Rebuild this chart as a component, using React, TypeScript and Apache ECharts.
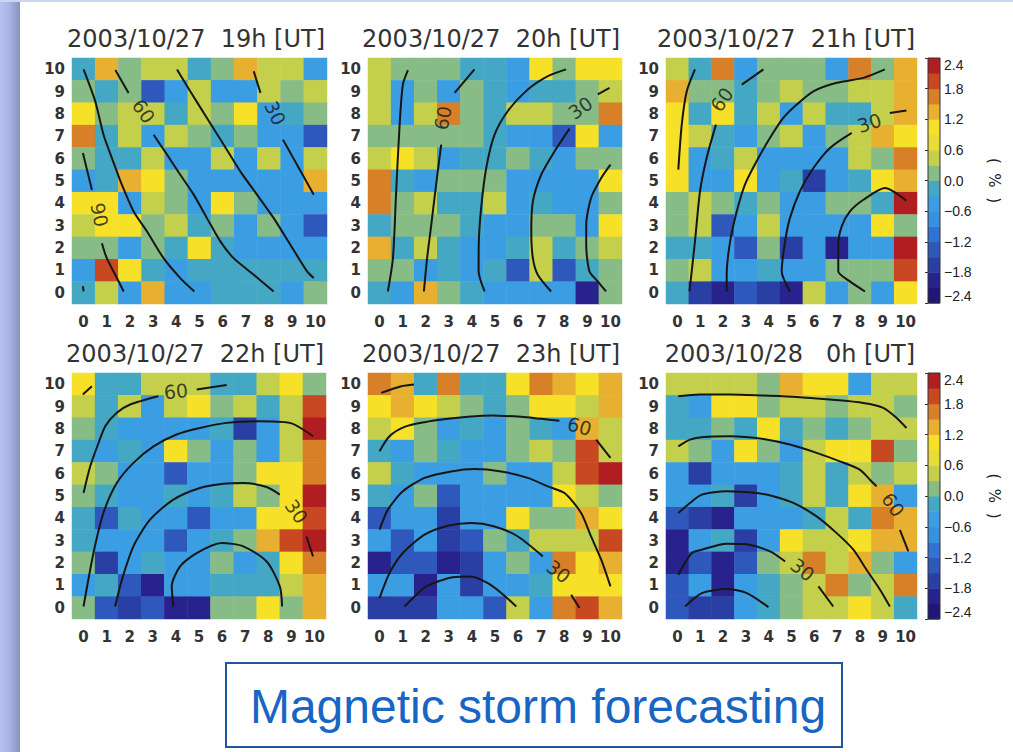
import React, { useEffect, useRef } from "react";
import * as echarts from "echarts";

// ---------- DATA ----------
const axisTicks = ["0", "1", "2", "3", "4", "5", "6", "7", "8", "9", "10"];
const panelTitles = [
  "2003/10/27  19h [UT]",
  "2003/10/27  20h [UT]",
  "2003/10/27  21h [UT]",
  "2003/10/27  22h [UT]",
  "2003/10/27  23h [UT]",
  "2003/10/28   0h [UT]",
];
const bandEdges = [-2.4, -2.1, -1.8, -1.5, -1.2, -0.9, -0.6, -0.3, 0, 0.3, 0.6, 0.9, 1.2, 1.5, 1.8, 2.1, 2.4];
const bandColors = [
  "#211676", "#28238c", "#2a3fa4", "#2f58bc", "#3372d2", "#3890e0", "#3c9ee2", "#44a8c4",
  "#88bc86", "#c4d04c", "#e8dc38", "#f7e128", "#e8b030", "#d88028", "#c84822", "#b01e22",
];
const colorbarTitle = "(  %  )";
const mainTitle = "Magnetic storm forecasting";

// rows listed from y = 10 (top) down to y = 0 (bottom)
const cells19h = [
  [-0.12, 1.32, 0.18, 0.44, 0.47, -0.2, 0.12, 1.38, 0.42, 0.46, -0.48],
  [0.16, -0.14, 0.2, -1.34, -0.5, 0.43, -0.52, -0.46, 0.4, 0.13, 0.48],
  [1.02, 0.14, 0.46, 0.42, -0.18, 0.44, 0.17, 1.05, -0.44, -0.16, 0.15],
  [1.62, -0.13, 0.45, -0.47, 0.43, 0.19, -0.17, 0.14, -0.42, -0.49, -1.31],
  [0.13, -0.15, -0.19, 0.47, -0.45, -0.41, 0.44, -0.48, 0.46, -0.44, 0.41],
  [-0.46, -0.12, 1.4, 1.03, 0.16, -0.43, -0.5, -0.47, -0.45, -0.41, 1.31],
  [0.98, 1.04, -0.49, 0.45, 0.18, -0.46, 1.01, 0.12, -0.42, -0.47, -0.44],
  [0.48, 1.06, 0.97, 0.14, 0.43, -0.16, 0.17, -0.45, 0.15, -0.5, -1.28],
  [0.15, 0.19, -0.43, 0.13, -0.14, 1.02, -0.18, -0.46, -0.41, -0.48, -0.45],
  [-0.47, 1.93, 1.05, -0.15, -0.44, -0.12, -0.16, -0.19, -0.13, -0.17, -0.14],
  [-0.16, 0.42, -0.48, 1.36, -0.45, -0.42, -0.14, -0.18, -0.15, -0.46, 0.16],
];
const cells20h = [
  [0.44, 0.16, 0.13, 0.18, -0.14, -0.17, -0.46, 1.03, 0.15, 0.99, 1.04],
  [0.46, -0.49, 0.14, -0.44, 0.17, -0.16, -0.43, -0.15, -0.12, 0.15, 0.42],
  [0.43, -0.47, 0.45, 1.63, 0.16, -0.13, 0.47, 0.44, 0.12, 0.18, 1.58],
  [0.14, 0.17, 0.15, 0.13, 0.19, -0.18, -0.45, -0.42, -1.33, 1.01, -0.48],
  [0.45, 1.02, 0.43, -0.46, -0.14, -0.17, 0.16, -0.12, -0.44, 0.14, 0.18],
  [1.61, -0.15, -0.47, 0.15, 0.12, 0.17, -0.43, -0.49, -0.45, -0.41, 1.05],
  [1.66, 0.13, 0.48, -0.16, -0.19, 0.44, -0.46, -0.13, -0.48, -0.44, 0.16],
  [-0.17, 0.15, 0.18, 0.14, -0.15, -0.45, -0.42, 0.13, 0.17, -0.47, 0.98],
  [1.33, -0.14, 0.46, -0.18, -0.43, -0.48, -0.16, 0.43, -0.12, 0.15, 0.47],
  [0.16, 0.14, -0.46, -0.15, -0.44, -0.17, -1.29, 0.45, -1.32, -0.13, 0.17],
  [-0.13, -0.47, 1.37, 0.16, -0.18, -0.45, -0.41, -0.49, -0.44, -2.02, 0.14],
];
const cells21h = [
  [0.46, -0.15, 1.64, -0.47, 0.15, 0.18, 0.13, -0.44, 1.6, 0.16, 1.34],
  [1.29, 0.14, 0.17, -0.16, 0.12, 0.44, 0.15, 0.18, 0.47, 0.43, 1.36],
  [1.03, -0.14, 1.0, -0.18, 0.45, -0.46, 0.48, -0.13, -0.17, 0.42, 1.32],
  [0.99, 0.44, -0.15, -0.48, 0.16, 0.46, -0.43, 0.14, 0.45, 1.38, 1.04],
  [1.05, -0.45, -0.17, 0.43, -0.47, -0.42, -0.49, -0.44, 0.46, 0.17, 1.62],
  [1.01, -0.46, -0.41, 1.02, -0.48, -0.14, -1.72, -0.45, -0.16, 1.03, 1.41],
  [0.13, 0.47, 0.16, -0.18, 0.15, -0.44, -0.47, 0.18, 0.14, -0.12, 2.22],
  [0.17, 0.43, -1.31, -0.46, 0.48, -0.43, -0.45, -0.49, -0.42, 0.97, 0.14],
  [-0.16, -0.13, -0.45, -1.33, 0.15, -1.68, -0.47, -2.05, -0.44, -0.41, 2.27],
  [0.15, 0.45, -0.48, -0.43, -0.15, -0.46, -0.42, 0.16, 0.13, 0.18, 1.92],
  [-0.14, -1.66, -2.03, -1.3, -1.71, -2.07, 0.44, -0.47, 0.17, -0.45, 1.02],
];
const cells22h = [
  [1.04, -0.14, -0.17, 0.45, 0.42, 0.47, -0.15, -0.12, 0.44, 1.01, 0.16],
  [0.43, -0.16, 0.46, -0.47, 0.44, 1.03, 0.14, 0.48, -0.13, 0.45, 1.9],
  [0.15, -0.18, -0.44, -0.46, -0.42, -0.48, -0.14, -1.69, -0.45, 0.43, 2.21],
  [-0.13, -0.45, -0.16, -0.43, 1.02, 0.17, -0.47, 0.13, -0.44, 0.46, 1.57],
  [0.47, 0.14, -0.49, -0.44, -1.32, -0.46, -0.41, 0.16, 1.0, 1.05, 1.52],
  [0.16, -0.15, -0.46, -0.42, -0.17, -0.48, -0.13, 0.44, 0.15, 0.99, 2.26],
  [-0.14, -1.28, -0.16, -0.45, -0.43, -1.34, -0.47, -0.44, 1.03, 1.06, 1.98],
  [-0.17, -0.46, -0.44, -0.48, -1.31, -0.42, -0.15, 0.14, 1.36, 1.88, 2.24],
  [0.15, -1.7, -0.43, -0.14, -0.46, -0.49, 0.17, -0.45, -0.12, 1.02, 1.6],
  [-0.44, -0.16, -1.33, -1.92, -0.47, -0.43, -0.18, -0.14, -0.13, 0.45, 1.39],
  [0.13, -1.3, -1.7, -1.35, -1.95, -1.98, 0.16, 0.18, 1.04, 0.15, 1.31],
];
const cells23h = [
  [1.58, 1.34, -0.16, 1.63, -0.13, -0.17, 1.02, 1.6, 1.37, 1.05, 1.33],
  [1.01, 1.3, 1.04, 0.44, 0.16, -0.15, 0.13, 1.03, 0.98, 0.47, 1.36],
  [0.46, 1.0, 0.17, -0.45, -0.14, -0.47, 0.15, -0.16, -0.43, 1.31, 0.45],
  [-0.15, -0.44, 0.14, -0.17, -0.46, -0.42, 0.16, 0.43, 0.18, 1.88, 0.44],
  [0.47, -0.13, -0.48, -0.44, -0.41, 0.15, -0.46, -0.43, 0.45, 1.92, 2.28],
  [-0.16, -0.45, 0.13, -1.29, -0.47, -0.43, -0.49, -0.44, 1.03, 0.46, 0.17],
  [-1.27, -0.46, -0.42, -1.71, -0.45, -0.48, 1.05, 0.14, 0.16, 1.35, 1.01],
  [-0.44, -1.33, -0.47, -1.68, -1.3, 0.15, -0.14, 0.43, 0.47, 0.44, 1.94],
  [-2.04, -1.31, -1.34, -2.01, -1.7, -0.46, 0.13, -0.43, 1.61, 1.02, 1.36],
  [-0.48, -0.44, -1.97, -0.45, -1.66, -0.42, -0.47, -0.15, 1.0, 1.04, 0.99],
  [-1.69, -1.72, -1.65, -0.46, -0.43, -1.32, 0.45, -0.44, 1.63, 1.9, 1.38],
];
const cells00h = [
  [0.44, 0.46, 0.42, 0.47, 0.15, 1.33, 1.02, 1.05, -0.45, 0.43, 0.45],
  [-0.15, -0.46, 1.01, 1.04, 0.16, 0.44, 0.47, 0.14, 0.45, 0.43, 0.17],
  [-0.13, -0.17, 0.15, -0.16, 1.03, -0.14, 0.13, -0.18, 0.16, 0.46, 0.44],
  [0.45, 0.17, -0.47, 1.02, 0.14, -0.44, 0.43, 1.0, 1.04, 1.91, 0.15],
  [-0.44, -1.68, -0.46, -0.43, -0.48, -0.15, 0.46, -0.13, 0.44, 0.16, 0.47],
  [-0.47, -0.42, -0.16, -1.7, -0.45, -0.14, 0.43, -0.17, 1.03, 1.34, -0.46],
  [-1.29, -1.72, -2.02, -0.44, -0.47, -0.43, -0.16, 0.45, -0.14, 1.59, 1.37],
  [-2.0, -0.45, -0.13, -1.69, -0.46, 1.04, 0.44, 0.47, 1.01, 1.32, 1.35],
  [-1.98, -1.33, -2.03, -1.31, 0.16, 0.45, 1.62, 0.43, 1.36, 0.15, -0.45],
  [-1.3, -0.44, -1.96, -0.47, -0.14, 0.14, 0.46, 1.6, 0.17, 0.44, 1.57],
  [-1.32, -1.71, -1.67, -0.45, -0.17, 0.15, 0.43, 0.46, 1.02, 0.45, -0.14],
];

// contour polylines in (x, y) cell coordinates
const contours19h = [
  [[0, 9.99], [0.5, 8.57], [0.86, 7.07], [1.22, 6.03], [1.65, 4.84], [2.16, 3.64], [2.73, 2.75], [3.45, 1.55], [4.17, 0.66], [4.78, 0.06]],
  [[1.37, 9.96], [1.94, 8.94]],
  [[3.02, 7.07], [3.6, 6.18], [4.17, 5.28], [4.75, 4.39], [5.32, 3.34], [5.9, 2.3], [6.47, 1.55], [7.34, 0.81], [8.2, 0.06]],
  [[4.03, 9.99], [4.6, 9.01], [5.32, 7.82], [6.04, 6.63], [6.76, 5.43], [7.48, 4.39], [8.2, 3.34], [8.92, 2.15], [9.64, 0.96], [9.93, 0.66]],
  [[7.34, 9.91], [7.63, 8.94]],
  [[8.6, 6.85], [9.93, 4.39]],
  [[-0.03, 6.25], [0.36, 4.6]],
  [[0.79, 2.22], [1.0, 1.55], [1.44, 0.66], [1.73, 0.06]],
  [[-0.03, 0.3], [0.0, 0.06]],
];
const contours20h = [
  [[1.23, 9.96], [1.01, 9.31], [0.87, 7.52], [0.72, 4.54], [0.58, 1.55], [0.36, 0.06]],
  [[3.25, 8.94], [4.11, 9.99]],
  [[2.67, 6.63], [2.45, 4.84], [2.24, 3.04], [2.06, 1.55], [1.92, 0.06]],
  [[8.08, 9.99], [7.29, 9.69], [6.42, 9.09], [5.55, 8.12], [4.98, 7.07], [4.62, 5.58], [4.4, 3.79], [4.3, 2.3], [4.29, 0.96], [4.55, 0.06]],
  [[9.45, 8.87], [9.96, 9.16]],
  [[8.23, 7.34], [7.58, 6.33], [7.0, 5.28], [6.64, 4.09], [6.57, 2.75], [6.64, 1.55], [6.85, 0.81], [7.43, 0.06]],
  [[10.0, 5.73], [9.6, 5.13], [9.16, 4.24], [8.95, 3.04], [8.95, 2.15], [9.09, 0.96], [9.45, 0.51], [9.81, 0.06]],
];
const contours21h = [
  [[0.77, 9.99], [0.41, 9.01], [0.19, 7.52], [0.04, 5.51]],
  [[2.82, 9.31], [3.77, 9.99]],
  [[1.69, 7.52], [1.28, 6.03], [0.99, 4.54], [0.77, 2.3], [0.53, 0.06]],
  [[9.09, 9.99], [8.15, 9.61], [6.98, 9.39], [5.96, 9.01], [5.23, 8.42], [4.64, 7.82], [4.06, 6.93], [3.47, 5.88], [2.96, 4.84], [2.6, 3.64], [2.31, 2.3], [2.16, 0.81], [2.16, 0.06]],
  [[9.31, 8.04], [10.04, 8.15]],
  [[7.64, 7.15], [6.69, 6.48], [5.96, 5.58], [5.37, 4.54], [4.93, 3.34], [4.72, 2.3], [4.57, 0.96], [4.93, 0.06]],
  [[10.04, 4.12], [9.09, 4.69], [8.15, 4.16], [7.56, 3.64], [7.2, 2.97], [7.05, 2.15], [7.05, 0.96], [7.56, 0.51], [8.22, 0.06]],
];
const contours22h = [
  [[-0.03, 9.54], [0.36, 9.91]],
  [[0, 5.13], [0.29, 6.33], [0.65, 7.37], [0.94, 8.12], [1.44, 8.72], [2.02, 9.09], [3.24, 9.46]],
  [[4.9, 9.76], [6.2, 9.96]],
  [[0, 0.06], [0.43, 2.45], [0.86, 4.24], [1.44, 5.58], [2.16, 6.48], [3.03, 7.22], [4.03, 7.75], [5.04, 8.04], [6.2, 8.27], [7.49, 8.34], [8.93, 8.27], [9.94, 7.67]],
  [[1.37, 0.06], [1.66, 1.25], [2.16, 2.75], [2.88, 3.94], [3.89, 4.84], [5.04, 5.36], [6.05, 5.55], [6.92, 5.58], [7.93, 5.4], [8.5, 5.06]],
  [[9.65, 3.19], [9.94, 2.3]],
  [[3.89, 0.06], [3.82, 0.96], [4.18, 1.85], [4.9, 2.45], [5.98, 2.9], [6.92, 2.75], [7.93, 2.07], [8.5, 0.96], [8.6, 0.06]],
];
const contours23h = [
  [[0.07, 9.61], [0.94, 9.91], [1.49, 9.99]],
  [[0, 7.0], [0.43, 7.67], [1.08, 8.09], [1.95, 8.3], [2.96, 8.45], [3.82, 8.54], [4.83, 8.6], [6.13, 8.54], [7.0, 8.45], [7.79, 8.37]],
  [[9.38, 7.52], [10.0, 6.7]],
  [[0, 3.49], [0.36, 4.39], [1.01, 5.21], [1.95, 5.81], [3.1, 6.1], [4.11, 6.21], [5.27, 6.1], [6.42, 5.81], [7.29, 5.43], [8.01, 5.13], [8.73, 4.24], [9.16, 3.19], [9.6, 2.15], [10.0, 0.96]],
  [[0, 0.43], [0.43, 1.55], [1.01, 2.45], [1.95, 3.27], [2.96, 3.67], [3.97, 3.79], [4.98, 3.64], [5.99, 3.19], [7.07, 2.3]],
  [[8.3, 0.58], [8.66, -0.01]],
  [[1.08, 0.06], [1.52, 0.51], [2.02, 0.96], [3.17, 1.37], [3.97, 1.4], [4.69, 1.1], [5.27, 0.66], [5.92, 0.06]],
];
const contours00h = [
  [[0.04, 9.46], [0.99, 9.54], [2.31, 9.54], [3.77, 9.49], [5.23, 9.43], [6.69, 9.31], [8.15, 9.16], [9.02, 8.94], [9.61, 8.49], [10.04, 8.04]],
  [[0.04, 7.22], [0.55, 7.52], [1.14, 7.64], [2.31, 7.67], [3.77, 7.55], [4.93, 7.3], [6.1, 6.93], [7.12, 6.55], [7.99, 6.18], [8.44, 5.73], [8.73, 5.43]],
  [[9.75, 3.49], [10.12, 2.52]],
  [[0.04, 4.24], [0.55, 4.69], [1.07, 5.06], [2.16, 5.21], [3.47, 5.13], [4.2, 4.99], [5.08, 4.69], [6.1, 4.09], [6.98, 3.34], [7.71, 2.6], [8.29, 1.7], [8.88, 0.81], [9.31, 0.06]],
  [[0.04, 1.48], [0.63, 2.45], [1.07, 2.6], [2.16, 2.87], [3.04, 2.84], [4.06, 2.52], [4.72, 2.07]],
  [[6.18, 0.96], [6.83, 0.06]],
  [[0.34, 0.06], [1.07, 0.66], [2.16, 0.84], [3.04, 0.66], [3.99, 0.03]],
];

// contour labels: [text, x, y, rotation]
const labels19h: [string, number, number, number][] = [["60", 2.59, 8.12, -55], ["30", 8.27, 8.04, -65], ["90", 0.69, 3.49, -78]];
const labels20h: [string, number, number, number][] = [["60", 2.74, 7.82, 80], ["30", 8.7, 8.27, 35]];
const labels21h: [string, number, number, number][] = [["60", 1.94, 8.64, 55], ["30", 8.41, 7.6, 18]];
const labels22h: [string, number, number, number][] = [["60", 4.0, 9.69, 5], ["30", 9.22, 4.31, -55]];
const labels23h: [string, number, number, number][] = [["60", 8.66, 8.12, -15], ["30", 7.75, 1.63, -38]];
const labels00h: [string, number, number, number][] = [["60", 9.46, 4.61, -55], ["30", 5.49, 1.7, -38]];

// ---------- LAYOUT ----------
const W = 1013;
const H = 752;
const panelBoxes = [
  { left: 72, top: 58, width: 255, height: 246 },
  { left: 368, top: 58, width: 254, height: 246 },
  { left: 666, top: 58, width: 251, height: 246 },
  { left: 72, top: 373, width: 254, height: 246 },
  { left: 368, top: 373, width: 254, height: 246 },
  { left: 666, top: 373, width: 251, height: 246 },
];
const cbBoxes = [
  { left: 928, top: 58, width: 12, height: 245 },
  { left: 928, top: 373, width: 12, height: 246 },
];
const titleTops = [27, 27, 27, 342, 342, 342];

const cellSets = [cells19h, cells20h, cells21h, cells22h, cells23h, cells00h];
const contourSets = [contours19h, contours20h, contours21h, contours22h, contours23h, contours00h];
const labelSets = [labels19h, labels20h, labels21h, labels22h, labels23h, labels00h];

const tickFont = { fontFamily: "DejaVu Sans", fontSize: 15, fontWeight: "bold" as const, color: "#333" };

function buildOption() {
  const grids: any[] = [];
  const xAxes: any[] = [];
  const yAxes: any[] = [];
  const heatSeries: any[] = [];
  const otherSeries: any[] = [];

  panelBoxes.forEach((b, i) => {
    grids.push({ ...b });
    xAxes.push({
      type: "category", gridIndex: i, data: axisTicks,
      axisLine: { show: false }, axisTick: { show: false }, splitLine: { show: false },
      axisLabel: { interval: 0, margin: 10, ...tickFont },
    });
    xAxes.push({ type: "value", gridIndex: i, min: -0.5, max: 10.5, show: false });
    yAxes.push({
      type: "category", gridIndex: i, data: axisTicks,
      axisLine: { show: false }, axisTick: { show: false }, splitLine: { show: false },
      axisLabel: { interval: 0, margin: 7, ...tickFont },
    });
    yAxes.push({ type: "value", gridIndex: i, min: -0.5, max: 10.5, show: false });

    const rows = cellSets[i];
    heatSeries.push({
      type: "heatmap",
      xAxisIndex: 2 * i, yAxisIndex: 2 * i,
      data: rows.flatMap((row, r) => row.map((v, c) => [c, rows.length - 1 - r, v])),
      itemStyle: { borderWidth: 0 },
      emphasis: { disabled: true },
      silent: true,
    });

    contourSets[i].forEach((poly) => {
      otherSeries.push({
        type: "line", xAxisIndex: 2 * i + 1, yAxisIndex: 2 * i + 1,
        data: poly, showSymbol: false, symbol: "none", smooth: 0.25,
        lineStyle: { color: "#161616", width: 2 }, silent: true, z: 3,
      });
    });

    otherSeries.push({
      type: "scatter", xAxisIndex: 2 * i + 1, yAxisIndex: 2 * i + 1,
      symbolSize: 1, itemStyle: { color: "transparent" }, silent: true, z: 4,
      label: { show: true, position: "inside", fontFamily: "DejaVu Sans", fontSize: 19, color: "#161616" },
      data: labelSets[i].map((l) => ({ value: [l[1], l[2]], label: { formatter: l[0], rotate: l[3] } })),
    });
  });

  const bands = bandColors.map((c, k) => [bandEdges[k], bandEdges[k + 1], k]);
  cbBoxes.forEach((b, j) => {
    const gi = grids.length;
    grids.push({ ...b });
    const xi = xAxes.length;
    xAxes.push({ type: "value", gridIndex: gi, min: 0, max: 1, show: false });
    const yi = yAxes.length;
    yAxes.push({
      type: "value", gridIndex: gi, min: -2.4, max: 2.4, interval: 0.6, position: "right",
      axisLine: { show: false }, splitLine: { show: false },
      axisTick: { show: true, inside: true, length: 3, lineStyle: { color: "#333" } },
      axisLabel: {
        margin: 4, fontFamily: "Liberation Sans", fontSize: 14, color: "#222",
        showMinLabel: true, showMaxLabel: true,
        verticalAlignMaxLabel: "top", verticalAlignMinLabel: "bottom",
        formatter: (v: number) => {
          const s = Math.abs(v).toFixed(1);
          return v < -1e-9 ? "\u2212" + s : s;
        },
      },
      name: colorbarTitle, nameLocation: "middle", nameRotate: -90, nameGap: 46,
      nameTextStyle: { fontFamily: "DejaVu Sans", fontSize: 15, color: "#222" },
    });
    otherSeries.push({
      type: "custom", coordinateSystem: "cartesian2d", xAxisIndex: xi, yAxisIndex: yi, silent: true,
      data: bands,
      encode: { x: 2, y: [0, 1] },
      renderItem: (_p: any, api: any) => {
        const lo = api.value(0);
        const hi = api.value(1);
        const a = api.coord([0, hi]);
        const z = api.coord([1, lo]);
        return {
          type: "rect",
          shape: { x: a[0], y: a[1], width: z[0] - a[0], height: z[1] - a[1] + 0.5 },
          style: { fill: bandColors[api.value(2)] },
        };
      },
    });
  });

  const pieces = bandColors.map((c, k) =>
    k === bandColors.length - 1
      ? { gte: bandEdges[k], lte: bandEdges[k + 1] + 10, color: c }
      : k === 0
      ? { gte: bandEdges[k] - 10, lt: bandEdges[k + 1], color: c }
      : { gte: bandEdges[k], lt: bandEdges[k + 1], color: c }
  );

  const titles = panelBoxes.map((b, i) => ({
    text: panelTitles[i],
    right: W - (b.left + b.width) + 2,
    top: titleTops[i],
    padding: 0,
    textStyle: { fontFamily: "DejaVu Sans", fontSize: 24, fontWeight: "normal", color: "#333" },
  }));

  const graphic: any[] = [
    {
      type: "rect", left: 0, top: 0, z: 0, silent: true,
      shape: { width: 20, height: H },
      style: {
        fill: new echarts.graphic.LinearGradient(0, 0, 1, 0, [
          { offset: 0, color: "#b6c1f3" },
          { offset: 0.45, color: "#aab4e6" },
          { offset: 1, color: "#8a92bc" },
        ]),
      },
    },
    { type: "rect", left: 0, top: 0, z: 0, silent: true, shape: { width: W, height: 2 }, style: { fill: "#cdd4f4" } },
    ...cbBoxes.map((b) => ({
      type: "rect", z: 100, silent: true,
      shape: { x: b.left, y: b.top, width: b.width, height: b.height },
      style: { fill: "none", stroke: "#333", lineWidth: 1 },
    })),
    {
      type: "rect", z: 100, silent: true,
      shape: { x: 226, y: 663, width: 616, height: 84 },
      style: { fill: "#fff", stroke: "#1f56a0", lineWidth: 2 },
    },
    {
      type: "text", z: 101, silent: true, x: 538, y: 706,
      style: {
        text: mainTitle, fontFamily: "Liberation Sans", fontSize: 48, fill: "#1866c4",
        align: "center", verticalAlign: "middle", textAlign: "center", textVerticalAlign: "middle",
      },
    },
  ];

  return {
    animation: false,
    backgroundColor: "#ffffff",
    title: titles,
    grid: grids,
    xAxis: xAxes,
    yAxis: yAxes,
    visualMap: { type: "piecewise", show: false, seriesIndex: heatSeries.map((_, k) => k), dimension: 2, pieces },
    series: [...heatSeries, ...otherSeries],
    graphic,
  };
}

export default function App() {
  const ref = useRef<HTMLDivElement>(null);
  useEffect(() => {
    document.body.style.margin = "0";
    const chart = echarts.init(ref.current!, null, { renderer: "svg" });
    chart.setOption(buildOption() as any);
    return () => chart.dispose();
  }, []);
  return <div ref={ref} style={{ width: W, height: H, position: "absolute", left: 0, top: 0 }} />;
}
